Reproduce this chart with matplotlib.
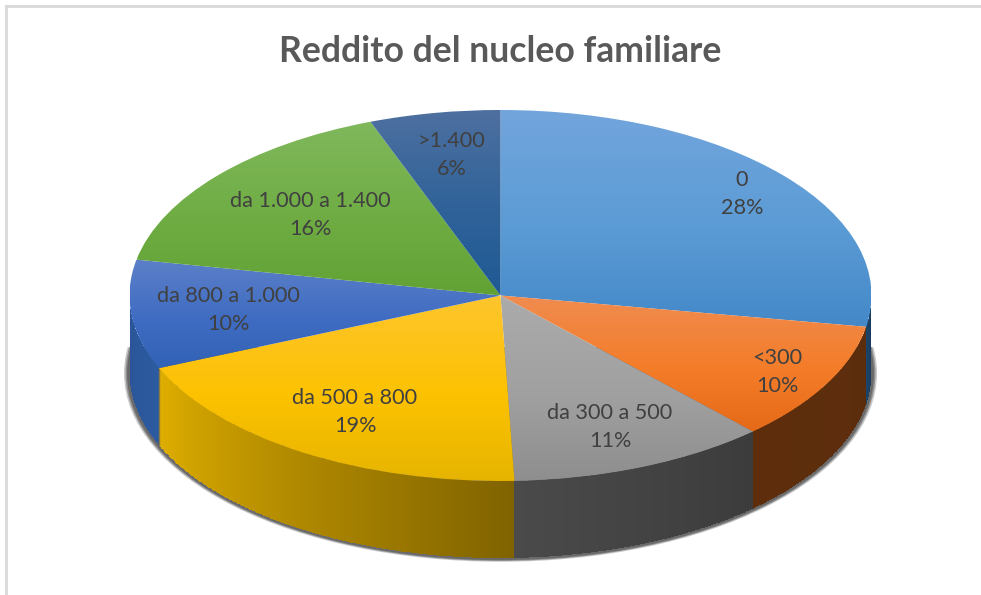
import numpy as np
import matplotlib
matplotlib.use("Agg")
import matplotlib.pyplot as plt
from matplotlib.colors import to_rgb
from matplotlib.patches import Ellipse, Rectangle

# ---- data ----
categories = ["0", "<300", "da 300 a 500", "da 500 a 800", "da 800 a 1.000", "da 1.000 a 1.400", ">1.400"]
values = [27.7, 10.4, 11.3, 19.2, 9.5, 16.2, 5.7]
percent_labels = ["28%", "10%", "11%", "19%", "10%", "16%", "6%"]
title = "Reddito del nucleo familiare"

# ---- styles ----
top_light = ["#72a5dc", "#f08c50", "#ababab", "#fec52e", "#5c80c8", "#80b85c", "#4e70a0"]
top_mid = ["#5b9bd5", "#f47c28", "#a0a0a0", "#fcc200", "#3f6cc2", "#6fad44", "#2f6299"]
top_dark = ["#4488c8", "#e56a18", "#8e8e8e", "#e6b400", "#3162b6", "#62a234", "#1f5a94"]
wall_a = ["#16375a", "#5c2d0d", "#3c3c3c", "#806300", "#2c5aa0", "#2c5aa0", "#1f5a94"]
wall_b = ["#1c4468", "#5e2e0c", "#4a4a4a", "#dfae00", "#2a5596", "#2a5596", "#1f5a94"]
label_px = [(742, 194), (777, 372), (610, 427), (355, 412), (228, 310), (310, 215), (452, 155)]

W, H = 981, 595
CX, CY, RX, RY = 500.5, 295.5, 371.0, 185.5
DEPTH = 77.0 / RY

plt.rcParams["font.family"] = ["Lato", "DejaVu Sans"]
fig = plt.figure(figsize=(W / 100, H / 100), dpi=100)
ax = fig.add_axes([0, 0, 1, 1])


def xd(px):
    return (px - CX) / RX


def yd(py):
    return (CY - py) / RY


wedges, _ = ax.pie(values, startangle=90, counterclock=False, radius=1, center=(0, 0),
                   colors=top_mid, wedgeprops=dict(linewidth=0))
ax.set_aspect("auto")

# shadow below the body of the pie
clip = Rectangle((xd(0), yd(H)), 3, yd(347) - yd(H), transform=ax.transData)
for grow, alpha in ((5.5, 0.35), (4.0, 0.6), (2.5, 1.0)):
    e = Ellipse((0, -DEPTH - 0.004), 2 * (RX + grow) / RX, 2 * (RY + grow * 0.55) / RY,
                facecolor="#6a6a6a", edgecolor="none", alpha=alpha, zorder=1)
    ax.add_patch(e)
    e.set_clip_path(clip)

# side walls and gradient tops
for i, w in enumerate(wedges):
    # wedge angles in matplotlib degrees; walls only on the front half
    t1, t2 = w.theta1, w.theta2
    ts = np.linspace(t1, t2, 240)
    tv = ts % 360
    vis = (tv > 180) & (tv < 360)
    if vis.sum() > 1:
        t = np.deg2rad(ts[vis])
        x = np.cos(t)
        X = np.vstack([x, x])
        Y = np.vstack([np.sin(t), np.sin(t) - DEPTH])
        f = np.linspace(0, 1, len(t) - 1)
        a, b = np.array(to_rgb(wall_a[i])), np.array(to_rgb(wall_b[i]))
        if x[0] > x[-1]:
            f = f[::-1]
        rgb = (a[None, :] * f[:, None] + b[None, :] * (1 - f[:, None]))[None, :, :]
        ax.pcolormesh(X, Y, rgb, shading="flat", antialiased=False, zorder=2, linewidth=0)

    # vertical gradient clipped to the wedge
    tt = np.deg2rad(np.linspace(t1, t2, 200))
    ymin = min(0, np.sin(tt).min())
    ymax = max(0, np.sin(tt).max())
    xmin = min(0, np.cos(tt).min())
    xmax = max(0, np.cos(tt).max())
    n = 200
    g = np.linspace(0, 1, n)[:, None]
    c0, c1, c2 = [np.array(to_rgb(c)) for c in (top_light[i], top_mid[i], top_dark[i])]
    grad = np.where(g < 0.55, c0 + (c1 - c0) * g / 0.55, c1 + (c2 - c1) * (g - 0.55) / 0.45)
    img = ax.imshow(grad[:, None, :].reshape(n, 1, 3), extent=(xmin, xmax, ymin, ymax),
                    origin="upper", aspect="auto", interpolation="bilinear", zorder=3)
    w.set_zorder(3)
    w.set_facecolor("none")
    img.set_clip_path(w)

# the cut face at the yellow slice's end
yb = wedges[3]
te = np.deg2rad(yb.theta1)
ax.plot([np.cos(te)] * 2, [np.sin(te), np.sin(te) - DEPTH], color="#8a7a40", lw=1.0, zorder=2.5)

# labels
for cat, pct, (px, py) in zip(categories, percent_labels, label_px):
    ax.text(xd(px), yd(py), cat + "\n" + pct, ha="center", va="center", fontsize=15.6,
            color="#404040", linespacing=1.5, zorder=5)

ax.text(xd(500), yd(51), title, ha="center", va="center", fontsize=25.6, fontweight="bold",
        color="#595959", zorder=5)

# chart frame
ax.plot([xd(5.5), xd(5.5)], [yd(H), yd(5.5)], color="#d9d9d9", lw=2, zorder=1)
ax.plot([xd(5.5), xd(W)], [yd(5.5), yd(5.5)], color="#d9d9d9", lw=2, zorder=1)

ax.set_xlim(xd(0), xd(W))
ax.set_ylim(yd(H), yd(0))
ax.set_axis_off()
fig.savefig("out.png", dpi=100, facecolor="white")
